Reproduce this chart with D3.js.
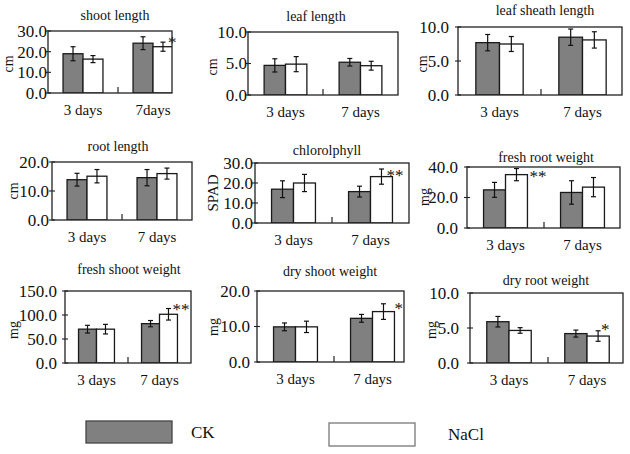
<!DOCTYPE html>
<html><head><meta charset="utf-8">
<script src="https://cdn.jsdelivr.net/npm/d3@7/dist/d3.min.js"></script>
<style>
html,body{margin:0;padding:0;background:#fff;}
</style></head>
<body>
<svg id="chart" width="630" height="454"></svg>
<script>
// ---- data ----
const panelTitles = ["shoot length","leaf length","leaf sheath length","root length","chlorolphyll","fresh root weight","fresh shoot weight","dry shoot weight","dry root weight"];
const unitLabels = ["cm","cm","cm","cm","SPAD","mg","mg","mg","mg"];
const categories = [["3 days","7days"],["3 days","7 days"],["3 days","7 days"],["3 days","7 days"],["3 days","7 days"],["3 days","7 days"],["3 days","7 days"],["3 days","7 days"],["3 days","7 days"]];
const seriesNames = ["CK","NaCl"];
const yMax = [30,10,10,20,30,40,150,20,10];
const yTickStep = [10,5,5,10,10,20,50,10,5];
const ckMean = [[19.0,24.1],[4.7,5.2],[7.7,8.5],[13.9,14.6],[16.9,15.7],[25.0,23.3],[70.5,82.0],[9.9,12.3],[5.9,4.2]];
const ckErr  = [[3.4,3.1],[1.05,0.6],[1.2,1.2],[2.2,2.8],[4.2,2.7],[4.9,7.7],[8.0,6.5],[1.1,1.1],[0.75,0.5]];
const naclMean = [[16.4,22.4],[4.9,4.65],[7.5,8.1],[15.1,16.0],[20.0,23.2],[35.0,26.8],[70.5,101.5],[9.9,14.2],[4.65,3.85]];
const naclErr  = [[1.7,2.2],[1.2,0.7],[1.1,1.2],[2.3,1.9],[4.3,3.8],[4.0,6.3],[10.0,12.0],[1.6,2.2],[0.4,0.75]];
const signif = [["","*"],["",""],["",""],["",""],["","**"],["**",""],["","**"],["","*"],["","*"]];

// ---- layout (positions only) ----
// [left, top, right, bottom, midTick]
const boxes = [
  [48,31,172,93,118],[248,32,398,95,323],[458,27,622,95,541],
  [52,162,192,220,122],[255,163,409,223,332],[467,167,620,228,544],
  [65,291,191,363,128],[257,291,404,362,334],[470,293,623,363,548]
];
const titlePos = [[115,20],[316,21],[545,15],[118,151],[327,155],[546,162],[129,274],[330,276],[546,285]];
const unitPos = [[8,64],[212,67],[422,64],[13,191],[213,193],[424,197],[13,330],[213,327],[431,330]];
const labelGap = [1,1,9,3,2,9,8,7,11];
// star offset [dx from NaCl bar centre, dy of star centre from error top]
const starOff = [[5,-2],[0,0],[0,0],[0,0],[5,4],[13,6],[4,-1],[11,3],[3,-3]];

const svg = d3.select("#chart");
const CKFILL = "#808080";
const FONT = "'Times New Roman', 'Liberation Serif', Tinos, serif";
svg.attr("font-family", FONT);

panelTitles.forEach((title, i) => {
  const [L,T,R,B,M] = boxes[i];
  const g = svg.append("g");
  const x = d3.scaleBand().domain(categories[i]).range([L, 2*M - L]).padding(0);
  const xs = d3.scaleBand().domain(seriesNames).range([0, x.bandwidth()]).paddingInner(0).paddingOuter(0.754);
  const y = d3.scaleLinear().domain([0, yMax[i]]).range([B, T]);
  const clipId = "clip" + i;
  svg.append("clipPath").attr("id", clipId).append("rect")
    .attr("x", L).attr("y", T - 40).attr("width", R - L).attr("height", B - T + 40);

  const rows = [];
  categories[i].forEach((c, j) => {
    rows.push({cat:c, s:"CK", v:ckMean[i][j], e:ckErr[i][j], sig:""});
    rows.push({cat:c, s:"NaCl", v:naclMean[i][j], e:naclErr[i][j], sig:signif[i][j]});
  });

  const pg = g.append("g").attr("clip-path", `url(#${clipId})`);
  pg.selectAll("rect.bar").data(rows).join("rect").attr("class","bar")
    .attr("x", d => x(d.cat) + xs(d.s))
    .attr("y", d => y(d.v))
    .attr("width", xs.bandwidth())
    .attr("height", d => y(0) - y(d.v))
    .attr("fill", d => d.s === "CK" ? CKFILL : "#fff")
    .attr("stroke", "#1a1a1a").attr("stroke-width", 1.3);

  const eg = pg.selectAll("g.err").data(rows).join("g").attr("class","err")
    .attr("transform", d => `translate(${x(d.cat) + xs(d.s) + xs.bandwidth()/2},0)`);
  eg.append("line").attr("y1", d => y(d.v + d.e)).attr("y2", d => y(d.v - d.e))
    .attr("stroke","#111").attr("stroke-width",1.2);
  eg.append("line").attr("x1",-2.5).attr("x2",2.5).attr("y1", d => y(d.v + d.e)).attr("y2", d => y(d.v + d.e))
    .attr("stroke","#111").attr("stroke-width",1.2);
  eg.append("line").attr("x1",-2.5).attr("x2",2.5).attr("y1", d => y(d.v - d.e)).attr("y2", d => y(d.v - d.e))
    .attr("stroke","#111").attr("stroke-width",1.2);

  g.selectAll("text.sig").data(rows.filter(d => d.sig)).join("text").attr("class","sig")
    .attr("x", d => x(d.cat) + xs(d.s) + xs.bandwidth()/2 + starOff[i][0])
    .attr("y", d => y(d.v + d.e) + starOff[i][1] + 7.5)
    .attr("font-size", 17).attr("fill","#111")
    .text(d => d.sig);

  g.append("rect").attr("x", L).attr("y", T).attr("width", R - L).attr("height", B - T)
    .attr("fill","none").attr("stroke","#222").attr("stroke-width",1.3);

  g.append("line").attr("x1", M).attr("x2", M).attr("y1", B).attr("y2", B - 6)
    .attr("stroke","#222").attr("stroke-width",1.2);

  const ticks = d3.range(0, yMax[i] + 1e-9, yTickStep[i]);
  g.selectAll("line.yt").data(ticks).join("line").attr("class","yt")
    .attr("x1", L - 3).attr("x2", L + 3).attr("y1", d => y(d)).attr("y2", d => y(d))
    .attr("stroke","#222").attr("stroke-width",1.1);
  g.selectAll("text.yl").data(ticks).join("text").attr("class","yl")
    .attr("x", L - labelGap[i]).attr("y", d => y(d)).attr("dy","0.35em")
    .attr("text-anchor","end").attr("font-size",17).attr("fill","#111")
    .text(d => d3.format(".1f")(d));

  g.selectAll("text.xl").data(categories[i]).join("text").attr("class","xl")
    .attr("x", d => x(d) + x.bandwidth()/2).attr("y", B + 22)
    .attr("text-anchor","middle").attr("font-size",15).attr("fill","#111")
    .text(d => d);

  g.append("text").attr("x", titlePos[i][0]).attr("y", titlePos[i][1])
    .attr("text-anchor","middle").attr("font-size",14).attr("fill","#111").text(title);

  g.append("text").attr("transform", `translate(${unitPos[i][0]},${unitPos[i][1]}) rotate(-90)`)
    .attr("text-anchor","middle").attr("dy","0.35em")
    .attr("font-size", unitLabels[i] === "SPAD" ? 15 : 14).attr("fill","#111").text(unitLabels[i]);
});

const legendItems = [
  {name: seriesNames[0], fill: CKFILL, stroke:"#444", rect:[86,421,86,22], tx:191, ty:438},
  {name: seriesNames[1], fill: "#fff", stroke:"#777", rect:[329,423,86,23], tx:448, ty:440}
];
const lg = svg.append("g");
lg.selectAll("rect").data(legendItems).join("rect")
  .attr("x", d => d.rect[0]).attr("y", d => d.rect[1]).attr("width", d => d.rect[2]).attr("height", d => d.rect[3])
  .attr("fill", d => d.fill).attr("stroke", d => d.stroke).attr("stroke-width",1.3);
lg.selectAll("text").data(legendItems).join("text")
  .attr("x", d => d.tx).attr("y", d => d.ty).attr("font-size",17).attr("fill","#111")
  .text(d => d.name);
</script>
</body></html>
